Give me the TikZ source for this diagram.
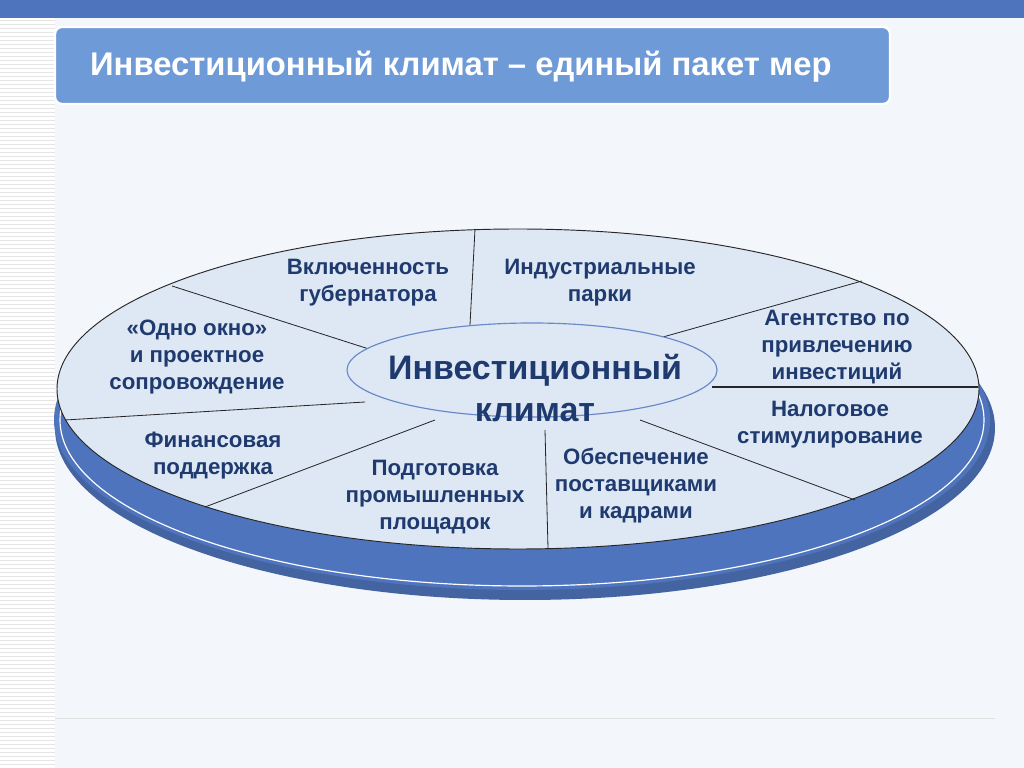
\documentclass[tikz,border=0pt]{standalone}
\usepackage{fontspec}
\setmainfont{Liberation Sans}
\begin{document}
\begin{tikzpicture}[x=0.03cm,y=-0.03cm,
 lbl/.style={text=navy,font=\bfseries\fontsize{19}{23}\selectfont,align=center},
 spoke/.style={draw=black!85,line width=0.7pt}]
\definecolor{navy}{HTML}{1F3A6E}
\definecolor{band}{HTML}{4F74BE}
\definecolor{face}{HTML}{DEE8F5}
\definecolor{titlebox}{HTML}{6E9AD8}
\definecolor{bg}{HTML}{F3F6FA}
\useasboundingbox (0,0) rectangle (1024,768);
\fill[white] (0,0) rectangle (1024,768);
\fill[bg] (55,18) rectangle (1024,768);
\foreach \yy in {20,24,...,768} \draw[black!10,line width=0.3pt] (0,\yy) -- (55,\yy);
\fill[band] (0,0) rectangle (1024,18);
\draw[black!12,line width=0.8pt] (55,718) -- (995,718);
\fill[titlebox,draw=white,line width=2pt,rounded corners=6pt] (55,27) rectangle (890,104);
\node[text=white,font=\bfseries\fontsize{28}{32}\selectfont,anchor=west] (tt) at (86,67) {Инвестиционный климат – единый пакет мер};
% disk
\fill[band!85!black] (525,428) ellipse [x radius=470, y radius=172];
\fill[band] (522,420) ellipse [x radius=468, y radius=170];
\draw[white,line width=1pt] (522,420) ellipse [x radius=462, y radius=166];
\fill[face,draw=black!85,line width=0.8pt] (518,389) ellipse [x radius=461, y radius=160];
\draw[spoke] (475,229) -- (470,325);
\draw[spoke] (172,286) -- (372,350);
\draw[spoke] (65,420) -- (365,402);
\draw[spoke] (205,507) -- (435,420);
\draw[spoke] (548,548) -- (545,430);
\draw[spoke] (855,500) -- (640,420);
\draw[spoke,line width=1.4pt] (712,387) -- (978,387);
\draw[spoke] (663,337) -- (862,281);
\filldraw[fill=face,draw=band!85,line width=1pt] (532,370) ellipse [x radius=185, y radius=47];
\node[text=navy,font=\bfseries\fontsize{29}{36}\selectfont,align=center] (c) at (535,388) {Инвестиционный\\климат};
\node[lbl] (a1) at (368,283) {Включенность\\губернатора};
\node[lbl] (a2) at (600,283) {Индустриальные\\парки};
\node[lbl] (a3) at (837,347) {Агентство по\\привлечению\\инвестиций};
\node[lbl] (a4) at (830,425) {Налоговое\\стимулирование};
\node[lbl] (a5) at (636,486) {Обеспечение\\поставщиками\\и кадрами};
\node[lbl] (a6) at (435,497) {Подготовка\\промышленных\\площадок};
\node[lbl] (a7) at (213,456) {Финансовая\\поддержка};
\node[lbl] (a8) at (197,357) {«Одно окно»\\и проектное\\сопровождение};
\end{tikzpicture}
\end{document}
